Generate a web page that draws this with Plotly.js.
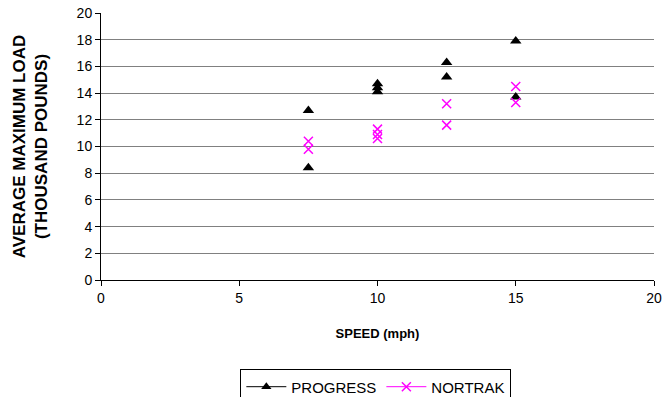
<!DOCTYPE html>
<html>
<head>
<meta charset="utf-8">
<script src="https://cdn.plot.ly/plotly-3.0.1.min.js"></script>
<style>html,body{margin:0;padding:0;background:#fff;}#chart{width:662px;height:397px;}</style>
</head>
<body>
<div id="chart"></div>
<script>
var progressSpeed = [7.5, 7.5, 10, 10, 10, 12.5, 12.5, 15, 15];
var progressLoad  = [12.7, 8.4, 14.1, 14.4, 14.7, 16.3, 15.2, 17.9, 13.7];
var nortrakSpeed  = [7.5, 7.5, 10, 10, 10, 12.5, 12.5, 15, 15];
var nortrakLoad   = [10.4, 9.8, 11.3, 10.9, 10.6, 13.2, 11.6, 14.5, 13.3];
var seriesNames = ['PROGRESS', 'NORTRAK'];
var xTicks = [0, 5, 10, 15, 20];
var yTicks = [0, 2, 4, 6, 8, 10, 12, 14, 16, 18, 20];

var fam = 'Liberation Sans, Arial, sans-serif';
var traces = [
  {x: progressSpeed, y: progressLoad, mode: 'markers', type: 'scatter', showlegend: false,
   marker: {symbol: 'triangle-up', size: 10, color: '#000'}},
  {x: nortrakSpeed, y: nortrakLoad, mode: 'markers', type: 'scatter', showlegend: false,
   marker: {symbol: 'x-thin', size: 9, color: '#ff00ff', line: {width: 1.5, color: '#ff00ff'}}},
  {x: [null], y: [null], mode: 'lines+markers', type: 'scatter', name: seriesNames[0],
   line: {color: '#000', width: 1}, marker: {symbol: 'triangle-up', size: 9, color: '#000'}},
  {x: [null], y: [null], mode: 'lines+markers', type: 'scatter', name: seriesNames[1],
   line: {color: '#ff00ff', width: 1}, marker: {symbol: 'x-thin', size: 9, color: '#ff00ff', line: {width: 1.5, color: '#ff00ff'}}}
];
var layout = {
  width: 662, height: 397,
  margin: {l: 101, r: 8, t: 13, b: 117, autoexpand: false},
  paper_bgcolor: '#fff', plot_bgcolor: '#fff',
  font: {family: fam, size: 14, color: '#000'},
  showlegend: true,
  legend: {orientation: 'h', x: 0.497, xanchor: 'center', y: -0.335, yanchor: 'top',
    bordercolor: '#000', borderwidth: 1, font: {family: fam, size: 15, color: '#000'},
    itemwidth: 40, tracegroupgap: 0},
  xaxis: {range: [0, 20], tickvals: xTicks, ticktext: xTicks.map(String), ticks: 'outside', ticklen: 5,
    tickcolor: '#000', showline: true, linecolor: '#000', linewidth: 1, showgrid: false, zeroline: false,
    automargin: false,
    tickfont: {family: fam, size: 14, color: '#000'},
    title: {text: '<b>SPEED (mph)</b>', font: {family: fam, size: 13, color: '#000'}, standoff: 24}},
  yaxis: {range: [0, 20], tickvals: yTicks, ticktext: yTicks.map(String), ticks: 'outside', ticklen: 5,
    tickcolor: '#000', showline: true, linecolor: '#000', linewidth: 1, showgrid: true, gridcolor: '#808080',
    gridwidth: 1, zeroline: false, automargin: false,
    tickfont: {family: fam, size: 14, color: '#000'},
    title: {text: '<b>AVERAGE MAXIMUM LOAD<br>(THOUSAND POUNDS)</b>', font: {family: fam, size: 17, color: '#000'}, standoff: 24}}
};
Plotly.newPlot('chart', traces, layout, {displayModeBar: false, staticPlot: true});
</script>
</body>
</html>
